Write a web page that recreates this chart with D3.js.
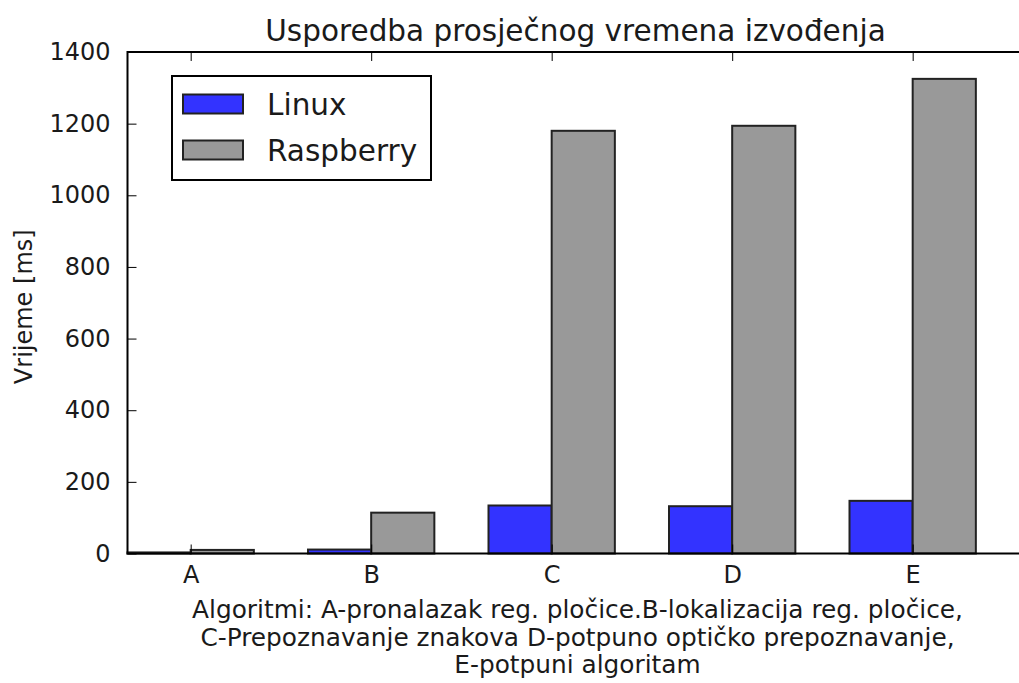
<!DOCTYPE html>
<html><head><meta charset="utf-8">
<script src="https://cdn.jsdelivr.net/npm/d3@7"></script>
<style>body{margin:0;background:#fff}svg{display:block;font-family:"DejaVu Sans",sans-serif}</style>
</head><body><svg id="c" width="1019" height="683"></svg>
<script>
const categories = ["A","B","C","D","E"];
const linux = [3, 11, 134, 132, 147];
const raspberry = [10, 114, 1180, 1194, 1325];
const seriesNames = ["Linux","Raspberry"];
const seriesColors = ["#3333ff","#999999"];
const yTicks = [0,200,400,600,800,1000,1200,1400];
const title = "Usporedba prosječnog vremena izvođenja";
const yLabel = "Vrijeme [ms]";
const xLabelLines = ["Algoritmi: A-pronalazak reg. pločice.B-lokalizacija reg. pločice,",
  "C-Prepoznavanje znakova D-potpuno optičko prepoznavanje,",
  "E-potpuni algoritam"];
const barWidth = 0.35;

const svg = d3.select("#c");
const L = 127.5, R = 1030, T = 52, B = 553.5;
const x = d3.scaleLinear().domain([0,5]).range([L,R]);
const y = d3.scaleLinear().domain([0,1400]).range([B,T]);
const txt = "#1a1a1a";
const fMed = 24, fLarge = 29.5;

// bars
const series = [linux, raspberry];
series.forEach((vals, si) => {
  svg.append("g").selectAll("rect").data(vals).join("rect")
    .attr("x", (d,i) => x(i + si*barWidth))
    .attr("width", (d,i) => x(i + (si+1)*barWidth) - x(i + si*barWidth))
    .attr("y", d => y(d))
    .attr("height", d => y(0) - y(d))
    .attr("fill", seriesColors[si])
    .attr("stroke", "#222").attr("stroke-width", 2);
});

// frame
svg.append("rect").attr("x", L).attr("y", T).attr("width", R-L).attr("height", B-T)
  .attr("fill","none").attr("stroke","#000").attr("stroke-width",2);

// y axis (ticks inward)
const yAxis = d3.axisLeft(y).tickValues(yTicks).tickSize(-9).tickPadding(17).tickFormat(d3.format("d"));
const gy = svg.append("g").attr("transform",`translate(${L},0)`).call(yAxis);
gy.select(".domain").remove();
gy.selectAll("line").attr("stroke","#000");
gy.selectAll("text").attr("font-size",fMed).attr("fill",txt).attr("font-family","DejaVu Sans");

// x axis
const tickPos = categories.map((c,i)=> i + barWidth);
const xAxis = d3.axisBottom(x).tickValues(tickPos).tickSize(-9).tickPadding(12)
  .tickFormat((d,i)=>categories[i]);
const gx = svg.append("g").attr("transform",`translate(0,${B})`).call(xAxis);
gx.select(".domain").remove();
gx.selectAll("line").attr("stroke","#000");
gx.selectAll("text").attr("font-size",fMed).attr("fill",txt).attr("font-family","DejaVu Sans");
const xTop = d3.axisTop(x).tickValues(tickPos).tickSize(-9).tickFormat("");
const gxt = svg.append("g").attr("transform",`translate(0,${T})`).call(xTop);
gxt.select(".domain").remove();
gxt.selectAll("line").attr("stroke","#000");

// title
svg.append("text").attr("x",575.5).attr("y",41).attr("text-anchor","middle")
  .attr("font-size",fLarge).attr("fill",txt).text(title);

// y label
svg.append("text").attr("transform",`translate(32,${(T+B)/2 + 4}) rotate(-90)`)
  .attr("text-anchor","middle").attr("font-size",fMed).attr("fill",txt).text(yLabel);

// x label
xLabelLines.forEach((t,i)=>{
  svg.append("text").attr("x",577.5).attr("y",618 + i*27.5).attr("text-anchor","middle")
    .attr("font-size",24.8).attr("fill",txt).text(t);
});

// legend
const lg = svg.append("g");
lg.append("rect").attr("x",172).attr("y",76).attr("width",259).attr("height",104)
  .attr("fill","#fff").attr("stroke","#000").attr("stroke-width",2);
seriesNames.forEach((n,i)=>{
  const cy = 104 + i*46;
  lg.append("rect").attr("x",183).attr("y",cy-9.5).attr("width",60).attr("height",19)
    .attr("fill",seriesColors[i]).attr("stroke","#222").attr("stroke-width",2);
  lg.append("text").attr("x",267).attr("y",cy+10.5).attr("font-size",fLarge).attr("fill",txt).text(n);
});
</script></body></html>
